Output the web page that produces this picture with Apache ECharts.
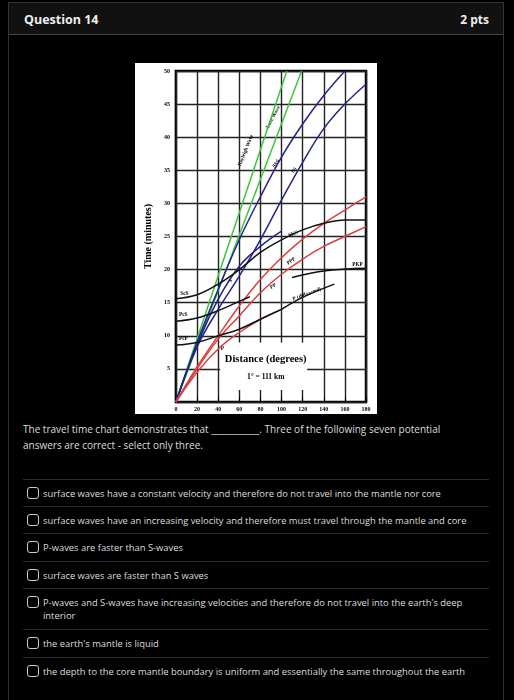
<!DOCTYPE html>
<html><head><meta charset="utf-8">
<script src="https://cdn.jsdelivr.net/npm/echarts@6/dist/echarts.min.js"></script>
<style>
body{margin:0;background:#000;width:514px;height:700px;overflow:hidden;font-family:"Open Sans",Lato,sans-serif;color:#ddd}
#box{position:absolute;left:8px;top:2px;width:494px;height:700px;border:1px solid #333;border-bottom:none}
#head{height:31px;background:#111;border-bottom:1px solid #444;position:relative}
#head .t{position:absolute;left:15px;top:8px;font-size:12.5px;font-weight:bold;color:#eee}
#head .p{position:absolute;right:14px;top:8px;font-size:12px;font-weight:bold;color:#eee}
#chart{position:absolute;left:126px;top:60px;width:242px;height:351px;background:#fff}
#q{position:absolute;left:14px;top:418px;font-size:10px;line-height:16px;width:440px}
.opt{position:absolute;left:14px;width:466px;border-top:1px solid #2a2a2a;font-size:9.4px;line-height:13px}
.opt span{position:absolute;left:20px;top:7px;width:436px}
.opt i{position:absolute;left:4px;top:7px;width:10px;height:10px;border:1px solid #ccc;border-radius:3px}
</style></head><body>
<div id="box">
<div id="head"><div class="t">Question 14</div><div class="p">2 pts</div></div>
<div id="chart"></div>
<div id="q">The travel time chart demonstrates that ___________. Three of the following seven potential answers are correct - select only three.</div>
<div id="opts"></div>
</div>
<script>
var distanceTicks = [0, 20, 40, 60, 80, 100, 120, 140, 160, 180];
var rayleigh = [[0,0],[105,50]];
var love = [[0,0],[119,50]];
var sWave = [[0,0],[20,8.6],[40,15.5],[60,20.5],[80,23.5],[100,25.8]];
var ssWave = [[0,0],[20,8.3],[40,14],[60,19],[80,24.5],[100,30.5],[120,36.2],[140,41.3],[160,45],[180,48]];
var sssWave = [[0,0],[20,9],[40,17],[60,24.5],[80,31],[100,37],[120,42],[140,46.3],[160,50]];
var pWave = [[0,0],[20,4.5],[40,8],[60,10.5],[80,12.5],[100,14]];
var ppWave = [[0,0],[20,5],[40,9.5],[60,13],[80,16.5],[100,19.3],[120,21.6],[140,23.5],[160,25],[180,26.5]];
var pppWave = [[0,0],[20,5.3],[40,10],[60,14.5],[80,18.5],[100,21.8],[120,24.6],[140,27],[160,29],[180,31]];
var pcp = [[0,8.6],[20,9],[40,10],[60,11],[80,12.5],[100,14]];
var pcs = [[0,12.2],[20,12.7],[40,13.8],[60,15.2],[70,15.9]];
var scs = [[0,15.6],[20,16.2],[40,17.8],[60,20],[80,22.6],[100,24.5],[120,26],[140,27],[160,27.5],[180,27.5]];
var pkp = [[110,18.8],[140,19.8],[180,20.2]];
var pDiff = [[100,14],[120,15.8],[150,17.8]];
var options = [
  'surface waves have a constant velocity and therefore do not travel into the mantle nor core',
  'surface waves have an increasing velocity and therefore must travel through the mantle and core',
  'P-waves are faster than S-waves',
  'surface waves are faster than S waves',
  'P-waves and S-waves have increasing velocities and therefore do not travel into the earth\'s deep interior',
  'the earth\'s mantle is liquid',
  'the depth to the core mantle boundary is uniform and essentially the same throughout the earth'
];
var optTops = [476, 503, 530, 558, 585, 626, 654];

var html = '';
options.forEach(function (o, i) {
  html += '<div class="opt" style="top:' + optTops[i] + 'px"><i></i><span>' + o + '</span></div>';
});
document.getElementById('opts').innerHTML = html;

var chart = echarts.init(document.getElementById('chart'));
function line(data, color, smooth) {
  return {type: 'line', data: data, symbol: 'none', smooth: smooth ? 0.4 : false,
    lineStyle: {color: color, width: 1.5}, silent: true};
}
var serif = '"Liberation Serif", "DejaVu Serif", serif';
chart.setOption({
  animation: false,
  grid: {left: 32, top: 8, right: 11, bottom: 12, show: true, borderColor: '#000', borderWidth: 2.5},
  xAxis: {type: 'value', min: 0, max: 180, interval: 20,
    axisLine: {show: false}, axisTick: {show: true, inside: true, lineStyle: {color: '#000'}},
    axisLabel: {fontFamily: serif, fontWeight: 'bold', fontSize: 6, color: '#000', margin: 4},
    splitLine: {lineStyle: {color: '#222', width: 1.4}}},
  yAxis: {type: 'value', min: 0, max: 50, interval: 5,
    name: 'Time (minutes)', nameLocation: 'middle', nameGap: 20,
    nameTextStyle: {fontFamily: serif, fontWeight: 'bold', fontSize: 10, color: '#000'},
    axisLine: {show: false}, axisTick: {show: false},
    axisLabel: {fontFamily: serif, fontWeight: 'bold', fontSize: 6, color: '#000', margin: 6,
      formatter: function (v) { return v === 0 ? '' : v; }},
    splitLine: {lineStyle: {color: '#222', width: 1.4}}},
  series: [
    line(rayleigh, '#3cc63c'), line(love, '#3cc63c'),
    line(sWave, '#23238f', true), line(ssWave, '#23238f', true), line(sssWave, '#23238f', true),
    line(pWave, '#d84040', true), line(ppWave, '#d84040', true), line(pppWave, '#d84040', true),
    line(pcp, '#111', true), line(pcs, '#111', true), line(scs, '#111', true),
    line(pkp, '#111', true), line(pDiff, '#111', true)
  ]
});

function px(x, y) { return chart.convertToPixel({gridIndex: 0}, [x, y]); }
var labels = [
  ['Rayleigh Wave', 66, 38, 68], ['Love Wave', 92, 43, 62], ['SSS', 95, 36, 55], ['SS', 112, 35, 50],
  ['SKS', 111, 25.4, 20], ['PPP', 109, 21.3, 35], ['PP', 92, 17.5, 30], ['PKP', 172, 20.8, 0],
  ['P (diffracted)', 124, 16.3, 20], ['S', 52, 18.3, 55], ['P', 44, 8, 0],
  ['ScS', 8, 16.3, 0], ['PcS', 7, 13.2, 0], ['PcP', 7, 9.6, 0]
];
var g = [];
var c1 = px(40, 9), c2 = px(130, 1.8);
g.push({type: 'rect', shape: {x: c1[0] + 2, y: c1[1], width: c2[0] - c1[0] - 8, height: c2[1] - c1[1]},
  style: {fill: '#fff'}});
var c = px(85, 6.5);
g.push({type: 'text', x: c[0], y: c[1], style: {text: 'Distance (degrees)', fontFamily: serif, fontWeight: 'bold',
  fontSize: 10.5, fill: '#000', align: 'center', verticalAlign: 'middle'}});
c = px(85, 3.7);
g.push({type: 'text', x: c[0], y: c[1], style: {text: '1° = 111 km', fontFamily: serif, fontWeight: 'bold',
  fontSize: 7.5, fill: '#000', align: 'center', verticalAlign: 'middle'}});
labels.forEach(function (l) {
  var p = px(l[1], l[2]);
  g.push({type: 'text', x: p[0], y: p[1], rotation: l[3] * Math.PI / 180,
    style: {text: l[0], fontFamily: serif, fontWeight: 'bold', fontSize: 5.2, fill: '#000',
      align: 'center', verticalAlign: 'middle'}});
});
chart.setOption({graphic: g});
</script>
</body></html>
